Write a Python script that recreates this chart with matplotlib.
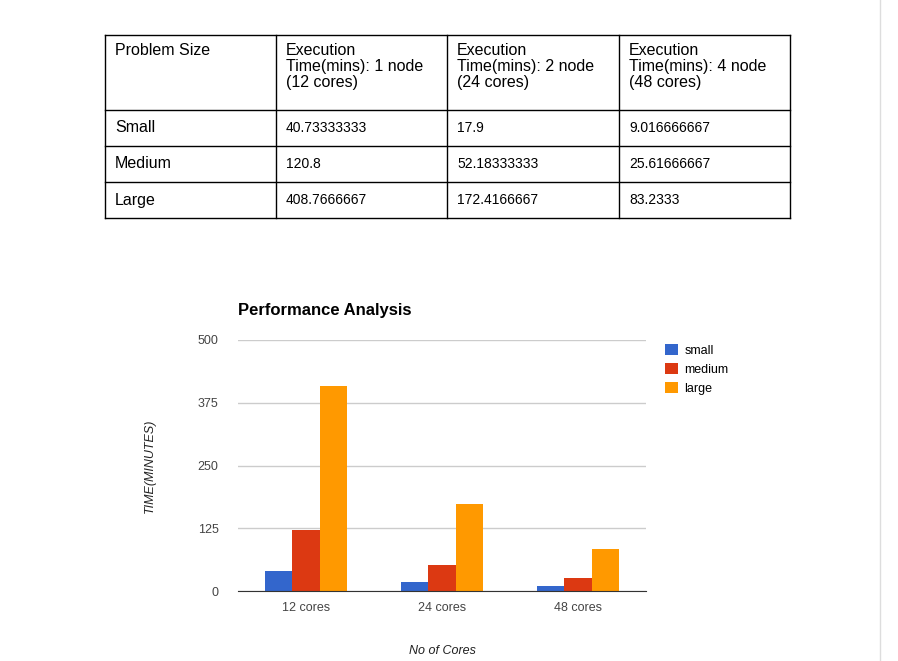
import matplotlib.pyplot as plt
from matplotlib.lines import Line2D

W, H = 898, 661

header = ["Problem Size", "Execution\nTime(mins): 1 node\n(12 cores)",
          "Execution\nTime(mins): 2 node\n(24 cores)",
          "Execution\nTime(mins): 4 node\n(48 cores)"]
rows = [["Small", "40.73333333", "17.9", "9.016666667"],
        ["Medium", "120.8", "52.18333333", "25.61666667"],
        ["Large", "408.7666667", "172.4166667", "83.2333"]]

cores = ["12 cores", "24 cores", "48 cores"]
small = [40.73333333, 17.9, 9.016666667]
medium = [120.8, 52.18333333, 25.61666667]
large = [408.7666667, 172.4166667, 83.2333]

fig = plt.figure(figsize=(W / 100, H / 100), dpi=100)
plt.rcParams['font.family'] = ['Liberation Sans', 'DejaVu Sans']

def fx(x):
    return x / W

def fy(y):
    return 1 - y / H

# table
col_x = [105, 276, 447, 619, 790]
row_y = [35, 110, 146, 182, 218]
for x in col_x:
    fig.add_artist(Line2D([fx(x)] * 2, [fy(row_y[0]), fy(row_y[-1])], color='black', lw=1))
for y in row_y:
    fig.add_artist(Line2D([fx(col_x[0]), fx(col_x[-1])], [fy(y)] * 2, color='black', lw=1))
for j, h in enumerate(header):
    fig.text(fx(col_x[j] + 10), fy(43), h, fontsize=11.5, va='top', ha='left', linespacing=1.1)
for i, r in enumerate(rows):
    for j, v in enumerate(r):
        fig.text(fx(col_x[j] + 10), fy((row_y[i + 1] + row_y[i + 2]) / 2), v,
                 fontsize=11.5 if j == 0 else 10, va='center', ha='left')

# page edge line
fig.add_artist(Line2D([fx(880)] * 2, [0, 1], color='#dddddd', lw=1))

# chart
ax = fig.add_axes([fx(238), fy(591), fx(646 - 238), (591 - 340) / H])
xs = range(len(cores))
w = 0.2
ax.bar([x - w for x in xs], small, w, color='#3366cc', label='small')
ax.bar(list(xs), medium, w, color='#dc3912', label='medium')
ax.bar([x + w for x in xs], large, w, color='#ff9900', label='large')
ax.set_xlim(-0.5, 2.5)
ax.set_ylim(0, 500)
ax.set_yticks([0, 125, 250, 375, 500])
ax.set_xticks(list(xs), cores)
ax.grid(axis='y', color='#cccccc', lw=1)
ax.set_axisbelow(True)
for s in ['top', 'right', 'left']:
    ax.spines[s].set_visible(False)
ax.spines['bottom'].set_color('#333333')
ax.tick_params(length=0, labelsize=9, colors='#444444', pad=8)
ax.tick_params(axis='y', pad=14)
ax.set_title("Performance Analysis", fontsize=12, fontweight='bold', loc='left', pad=18)
ax.set_xlabel("No of Cores", fontsize=9, style='italic', color='#222222', labelpad=22)
ax.set_ylabel("TIME(MINUTES)", fontsize=9, style='italic', color='#222222', labelpad=30)
ax.legend(loc='upper left', bbox_to_anchor=(1.02, 1.03), frameon=False, fontsize=9,
          handlelength=1, handleheight=1, handletextpad=0.5, labelspacing=0.5)

fig.savefig("out.png", dpi=100)
